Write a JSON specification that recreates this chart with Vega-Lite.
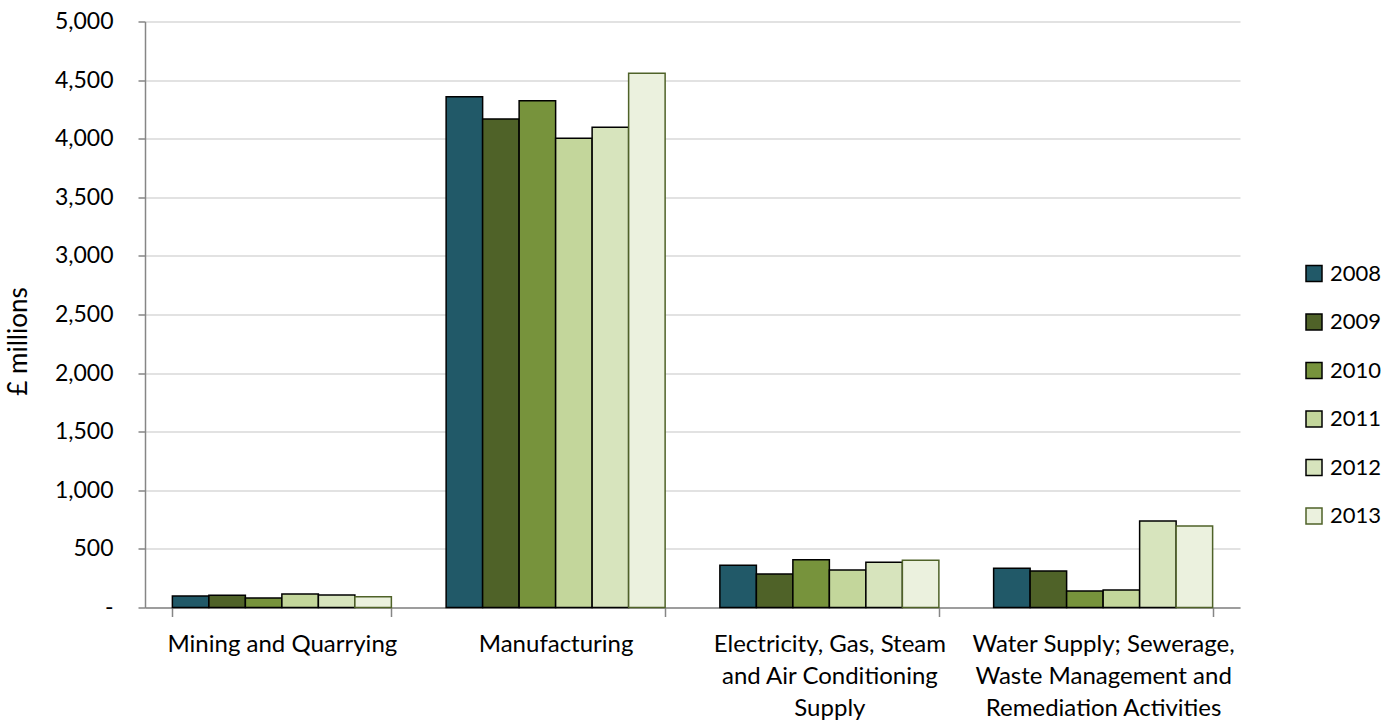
{
  "$schema": "https://vega.github.io/schema/vega-lite/v6.json",
  "autosize": {"type": "none"},
  "width": 1095,
  "height": 586,
  "padding": {"left": 145, "top": 21.5, "right": 160, "bottom": 114.5},
  "background": "white",
  "data": {
    "values": [
      {"industry": "Mining and Quarrying", "year": "2008", "value": 98},
      {"industry": "Mining and Quarrying", "year": "2009", "value": 104},
      {"industry": "Mining and Quarrying", "year": "2010", "value": 81},
      {"industry": "Mining and Quarrying", "year": "2011", "value": 115},
      {"industry": "Mining and Quarrying", "year": "2012", "value": 107},
      {"industry": "Mining and Quarrying", "year": "2013", "value": 92},
      {"industry": "Manufacturing", "year": "2008", "value": 4358},
      {"industry": "Manufacturing", "year": "2009", "value": 4168},
      {"industry": "Manufacturing", "year": "2010", "value": 4324},
      {"industry": "Manufacturing", "year": "2011", "value": 4003},
      {"industry": "Manufacturing", "year": "2012", "value": 4097},
      {"industry": "Manufacturing", "year": "2013", "value": 4558},
      {"industry": "Electricity, Gas, Steam and Air Conditioning Supply", "year": "2008", "value": 360},
      {"industry": "Electricity, Gas, Steam and Air Conditioning Supply", "year": "2009", "value": 286},
      {"industry": "Electricity, Gas, Steam and Air Conditioning Supply", "year": "2010", "value": 408},
      {"industry": "Electricity, Gas, Steam and Air Conditioning Supply", "year": "2011", "value": 320},
      {"industry": "Electricity, Gas, Steam and Air Conditioning Supply", "year": "2012", "value": 386},
      {"industry": "Electricity, Gas, Steam and Air Conditioning Supply", "year": "2013", "value": 403},
      {"industry": "Water Supply; Sewerage, Waste Management and Remediation Activities", "year": "2008", "value": 334},
      {"industry": "Water Supply; Sewerage, Waste Management and Remediation Activities", "year": "2009", "value": 311},
      {"industry": "Water Supply; Sewerage, Waste Management and Remediation Activities", "year": "2010", "value": 141},
      {"industry": "Water Supply; Sewerage, Waste Management and Remediation Activities", "year": "2011", "value": 149},
      {"industry": "Water Supply; Sewerage, Waste Management and Remediation Activities", "year": "2012", "value": 738},
      {"industry": "Water Supply; Sewerage, Waste Management and Remediation Activities", "year": "2013", "value": 695}
    ]
  },
  "mark": {"type": "bar", "strokeWidth": 1.5},
  "encoding": {
    "x": {
      "field": "industry",
      "type": "nominal",
      "sort": null,
      "scale": {"paddingInner": 0.2, "paddingOuter": 0.1},
      "axis": {
        "title": null,
        "labelAngle": 0,
        "grid": false,
        "tickBand": "extent",
        "tickSize": 9,
        "tickColor": "#868686",
        "tickWidth": 1.5,
        "domainColor": "#868686",
        "domainWidth": 1.5,
        "labelPadding": 16,
        "labelFont": "Lato",
        "labelFontSize": 24,
        "labelColor": "#000000",
        "labelLineHeight": 32,
        "labelLimit": 400,
        "labelExpr": "datum.value == 'Electricity, Gas, Steam and Air Conditioning Supply' ? ['Electricity, Gas, Steam', 'and Air Conditioning', 'Supply'] : datum.value == 'Water Supply; Sewerage, Waste Management and Remediation Activities' ? ['Water Supply; Sewerage,', 'Waste Management and', 'Remediation Activities'] : datum.value"
      }
    },
    "xOffset": {
      "field": "year",
      "type": "nominal",
      "scale": {"paddingInner": 0, "paddingOuter": 0}
    },
    "y": {
      "field": "value",
      "type": "quantitative",
      "scale": {"domain": [0, 5000], "nice": false},
      "axis": {
        "title": "£ millions",
        "titleFont": "Lato",
        "titleFontSize": 26,
        "titleFontWeight": "normal",
        "titleColor": "#000000",
        "titleAngle": -90,
        "titleX": -127,
        "titleY": 319.5,
        "titleAlign": "center",
        "titleBaseline": "middle",
        "values": [0, 500, 1000, 1500, 2000, 2500, 3000, 3500, 4000, 4500, 5000],
        "labelExpr": "datum.value == 0 ? '-' : format(datum.value, ',')",
        "labelFont": "Lato",
        "labelFontSize": 23,
        "labelColor": "#000000",
        "labelPadding": 25,
        "tickSize": 7,
        "tickColor": "#868686",
        "tickWidth": 1.5,
        "domainColor": "#868686",
        "domainWidth": 1.5,
        "grid": true,
        "gridColor": "#D9D9D9",
        "gridWidth": 1.5
      }
    },
    "fill": {
      "field": "year",
      "type": "nominal",
      "scale": {
        "domain": ["2008", "2009", "2010", "2011", "2012", "2013"],
        "range": ["#215968", "#4F6228", "#77933C", "#C3D69B", "#D7E4BD", "#EBF1DE"]
      },
      "legend": {"title": null, "orient": "none", "legendX": 1158, "legendY": 241}
    },
    "stroke": {
      "field": "year",
      "type": "nominal",
      "scale": {
        "domain": ["2008", "2009", "2010", "2011", "2012", "2013"],
        "range": ["#000000", "#000000", "#000000", "#000000", "#000000", "#4F6228"]
      },
      "legend": {"title": null, "orient": "none", "legendX": 1158, "legendY": 241}
    }
  },
  "config": {
    "view": {"stroke": null},
    "legend": {
      "padding": 0,
      "symbolType": "square",
      "symbolSize": 256,
      "symbolStrokeWidth": 1.5,
      "labelFont": "Lato",
      "labelFontSize": 22,
      "labelColor": "#000000",
      "labelOffset": 5,
      "rowPadding": 26.5
    }
  }
}
